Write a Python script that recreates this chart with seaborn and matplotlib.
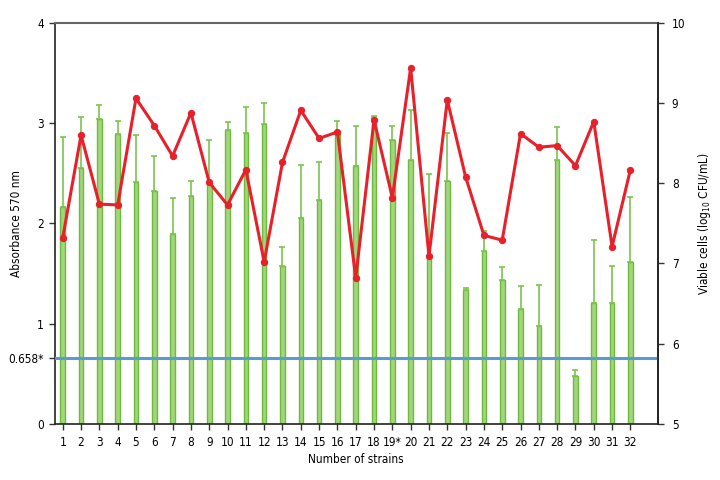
import matplotlib
matplotlib.use("Agg")
import matplotlib.pyplot as plt
import seaborn as sns
import numpy as np
import pandas as pd

strains = [str(i) for i in range(1, 33)]
strains[18] = "19*"

absorbance = [2.16, 2.55, 3.04, 2.89, 2.41, 2.32, 1.89, 2.27, 2.40, 2.93,
              2.90, 2.99, 1.57, 2.05, 2.23, 2.90, 2.57, 3.05, 2.83, 2.63,
              1.67, 2.42, 1.33, 1.72, 1.43, 1.14, 0.98, 2.63, 0.48, 1.20,
              1.20, 1.61]
abs_err_top = [2.86, 3.06, 3.18, 3.02, 2.88, 2.67, 2.25, 2.42, 2.83, 3.01,
               3.16, 3.20, 1.76, 2.58, 2.61, 3.02, 2.97, 3.07, 2.97, 3.13,
               2.49, 2.90, 1.35, 1.92, 1.56, 1.37, 1.38, 2.96, 0.54, 1.83,
               1.57, 2.26]
viable = [7.32, 8.60, 7.74, 7.73, 9.06, 8.72, 8.34, 8.88, 8.01, 7.73,
          8.17, 7.02, 8.26, 8.91, 8.56, 8.64, 6.82, 8.79, 7.82, 9.44,
          7.09, 9.04, 8.08, 7.35, 7.29, 8.62, 8.45, 8.47, 8.22, 8.77,
          7.21, 8.17]
cutoff = 0.658

df = pd.DataFrame({"strain": strains, "absorbance": absorbance})
err = np.array(abs_err_top) - np.array(absorbance)

plt.rcParams['font.family'] = ['DejaVu Sans']
plt.rcParams['font.stretch'] = 'condensed'
FS = 8.5

fig = plt.figure(figsize=(7.2, 4.8), dpi=100)
ax = fig.add_axes([0.0757, 0.1173, 0.838, 0.8348])

bar_face = "#a3d57f"
bar_edge = "#6cbb3c"
sns.barplot(data=df, x="strain", y="absorbance", order=strains, ax=ax,
            color=bar_face, edgecolor=bar_edge, linewidth=1.0, width=0.25,
            saturation=1, errorbar=None)
pos = np.arange(len(strains))
ax.errorbar(pos, absorbance, yerr=[np.zeros_like(err), err], fmt="none",
            ecolor="#7cc44e", elinewidth=1.2, capsize=2, capthick=1.2, zorder=3)
ax.axhline(cutoff, color="#5b9bd5", lw=2.2, zorder=4)

ax.set_xlim(-0.45, 32.5)
ax.set_ylim(0, 4)
ax.set_yticks([0, cutoff, 1, 2, 3, 4])
ax.set_yticklabels(["0", "0.658*", "1", "2", "3", "4"])
ax.set_xlabel("Number of strains", fontsize=FS, labelpad=3)
ax.set_ylabel("Absorbance 570 nm", fontsize=FS)
ax.yaxis.set_label_coords(-0.052, 0.5)
ax.tick_params(axis="both", labelsize=FS, direction="out", length=4, width=1, color="#333333")
ax.tick_params(axis="x", pad=5)
for s in ["left", "bottom", "right"]:
    ax.spines[s].set_color("#222222")
    ax.spines[s].set_linewidth(1.2)
ax.spines["top"].set_color("#666666")
ax.spines["top"].set_linewidth(1.5)

ax2 = ax.twinx()
sns.lineplot(x=pos, y=viable, ax=ax2, color="#e8202a", lw=2.2, marker="o",
             markersize=4.5, markeredgecolor="#e8202a", zorder=5)
ax2.set_ylim(5, 10)
ax2.set_yticks([5, 6, 7, 8, 9, 10])
ax2.set_ylabel(r"Viable cells (log$_{10}$ CFU/mL)", fontsize=FS)
ax2.yaxis.set_label_coords(1.063, 0.5)
ax2.tick_params(axis="y", labelsize=FS, direction="out", length=4, width=1, color="#333333", pad=6)
ax2.spines["right"].set_color("#222222")
ax2.spines["right"].set_linewidth(1.2)
ax2.spines["top"].set_visible(False)
ax2.spines["left"].set_visible(False)
ax2.spines["bottom"].set_visible(False)

fig.savefig("out.png", dpi=100)
